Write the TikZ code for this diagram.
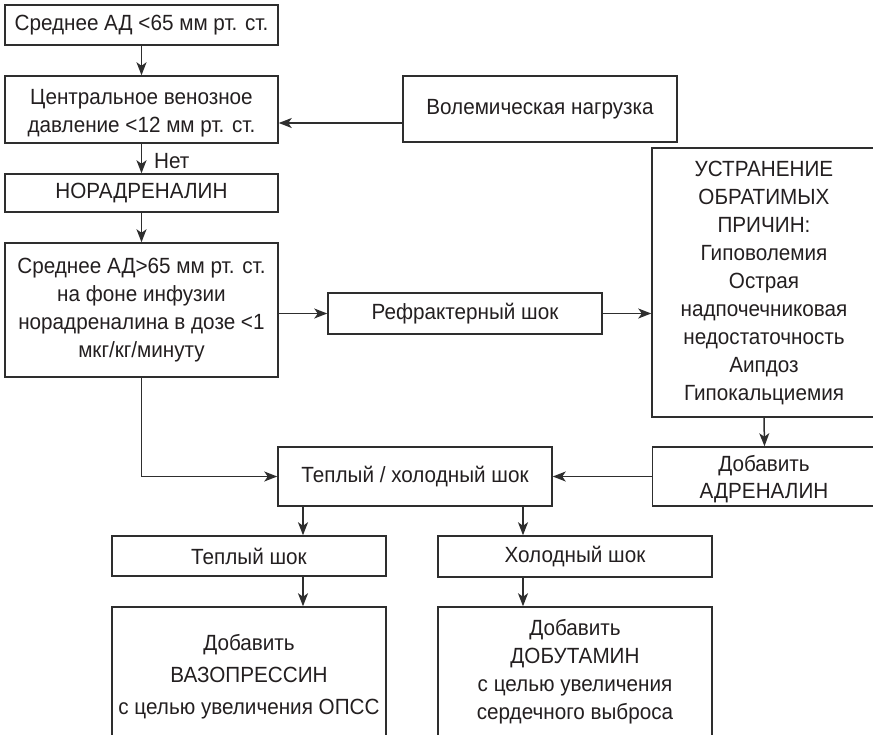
\documentclass[tikz,border=0pt]{standalone}
\usepackage{fontspec}
\setmainfont{Liberation Sans}[FakeStretch=0.94]
\usetikzlibrary{arrows.meta,calc}
\definecolor{ink}{HTML}{231F20}
\definecolor{edge}{HTML}{2E2E2E}
\begin{document}
\begin{tikzpicture}[x=1pt,y=-1pt,
  box/.style={draw=edge,line width=1.5pt,inner sep=0pt,text=ink,align=center,
    font=\fontsize{22}{28}\selectfont},
  arr/.style={draw=edge,line width=1.5pt,-{Stealth[length=13pt,width=10pt,inset=3.5pt]}},
  lbl/.style={inner sep=0pt,text=ink,align=center,font=\fontsize{22}{28}\selectfont}]
\useasboundingbox (0,0) rectangle (873,734);
\clip (0,0) rectangle (873,734);
\node[box,minimum width=273pt,minimum height=40pt] (b1) at (141.5,25) {Среднее АД <65 мм рт. ст.};
\node[box,minimum width=273pt,minimum height=67pt] (b2) at (141.5,109.5) {};
\node[lbl] (b2t) at (141.5,113) {Центральное венозное\\давление <12 мм рт. ст.};
\node[box,minimum width=273pt,minimum height=38pt] (b3) at (141.5,193) {НОРАДРЕНАЛИН};
\node[box,minimum width=273pt,minimum height=134pt] (b4) at (141.5,310) {Среднее АД>65 мм рт. ст.\\на фоне инфузии\\норадреналина в дозе <1\\мкг/кг/минуту};
\node[box,minimum width=274pt,minimum height=66pt] (vol) at (540,109) {Волемическая нагрузка};
\node[box,minimum width=274pt,minimum height=41pt] (refr) at (465,313.5) {Рефрактерный шок};
\node[box,minimum width=224pt,minimum height=269pt] (ustr) at (764,282.5) {};
\node[lbl] (ustrt) at (764,283) {УСТРАНЕНИЕ\\ОБРАТИМЫХ\\ПРИЧИН:\\Гиповолемия\\Острая\\надпочечниковая\\недостаточность\\Аипдоз\\Гипокальциемия};
\node[box,minimum width=224pt,minimum height=59pt] (adr) at (764.5,476.5) {};
\node[lbl,font=\fontsize{22}{27}\selectfont] (adrt) at (764,479) {Добавить\\АДРЕНАЛИН};
\node[box,minimum width=274pt,minimum height=59pt] (wc) at (415,476.5) {Теплый / холодный шок};
\node[box,minimum width=274pt,minimum height=40pt] (warm) at (249,556) {Теплый шок};
\node[box,minimum width=274pt,minimum height=41pt] (cold) at (575,556.5) {Холодный шок};
\node[box,minimum width=274pt,minimum height=140pt,font=\fontsize{22}{32}\selectfont] (vaso) at (249,677) {Добавить\\ВАЗОПРЕССИН\\с целью увеличения ОПСС};
\node[box,minimum width=274pt,minimum height=130pt] (dobu) at (575,672) {Добавить\\ДОБУТАМИН\\с целью увеличения\\сердечного выброса};
\coordinate (xw) at (303,0);
\coordinate (xc) at (523,0);
\draw[arr] (b1.south) -- (b2.north);
\draw[arr] (b2.south) -- (b3.north);
\node[lbl,anchor=west] (net) at (154,161) {Нет};
\draw[arr] (b3.south) -- (b4.north);
\draw[arr] ([yshift=-14pt]vol.west) -- ([yshift=-13.5pt]b2.east);
\draw[arr] (b4.east |- refr.west) -- (refr.west);
\draw[arr] (refr.east) -- (refr.east -| ustr.west);
\draw[arr] (ustr.south) -- (adr.north);
\draw[arr] (b4.south) |- (wc.west);
\draw[arr] (adr.west) -- (wc.east);
\draw[arr] (wc.south -| xw) -- (warm.north -| xw);
\draw[arr] (wc.south -| xc) -- (cold.north -| xc);
\draw[arr] (warm.south -| xw) -- (vaso.north -| xw);
\draw[arr] (cold.south -| xc) -- (dobu.north -| xc);
\end{tikzpicture}
\end{document}
